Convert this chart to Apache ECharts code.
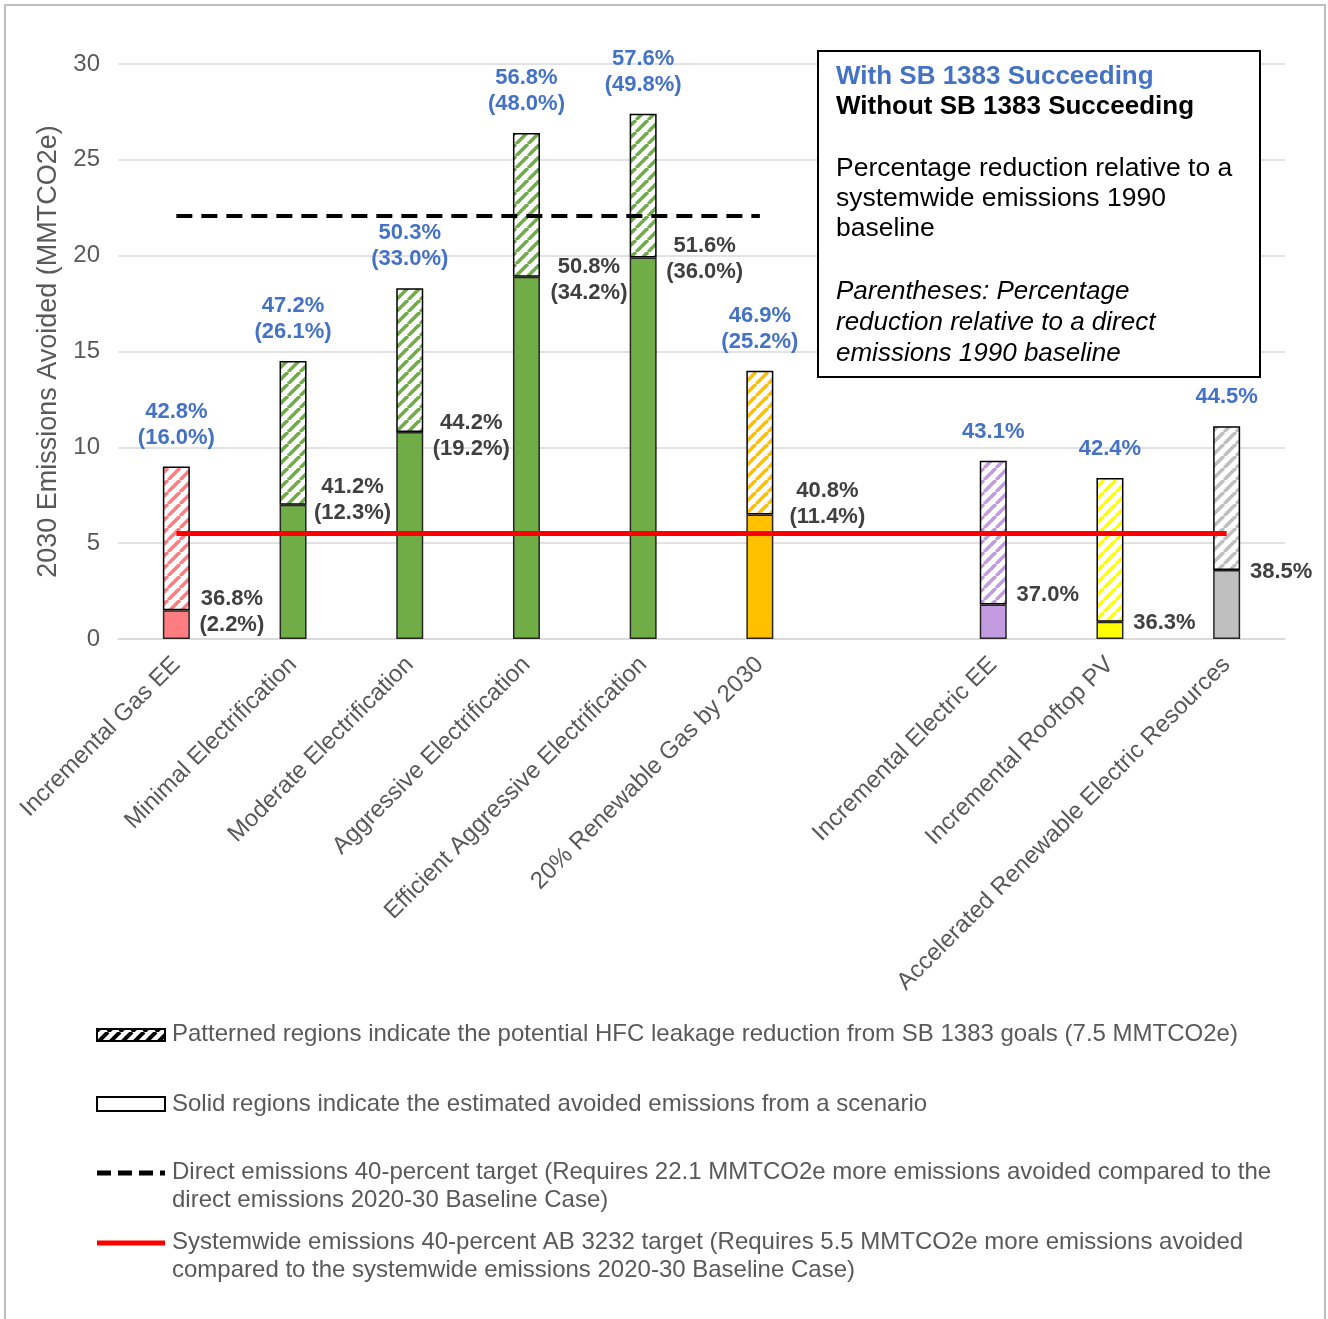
<!DOCTYPE html>
<html><head><meta charset="utf-8">
<script src="https://cdn.jsdelivr.net/npm/echarts@6/dist/echarts.min.js"></script>
<style>html,body{margin:0;padding:0;background:#fff}#c{width:1328px;height:1319px}</style>
</head><body><div id="c"></div>
<script>
// ---------- data ----------
const categories = ['Incremental Gas EE','Minimal Electrification','Moderate Electrification','Aggressive Electrification','Efficient Aggressive Electrification','20% Renewable Gas by 2030','','Incremental Electric EE','Incremental Rooftop PV','Accelerated Renewable Electric Resources'];
const solidValues = [1.5, 7.0, 10.8, 18.9, 19.9, 6.5, null, 1.8, 0.9, 3.6];
const hfcValues = [7.5, 7.5, 7.5, 7.5, 7.5, 7.5, null, 7.5, 7.5, 7.5];
const withSB1383Labels = ['42.8%\n(16.0%)','47.2%\n(26.1%)','50.3%\n(33.0%)','56.8%\n(48.0%)','57.6%\n(49.8%)','46.9%\n(25.2%)','','43.1%','42.4%','44.5%'];
const withoutSB1383Labels = ['36.8%\n(2.2%)','41.2%\n(12.3%)','44.2%\n(19.2%)','50.8%\n(34.2%)','51.6%\n(36.0%)','40.8%\n(11.4%)','','37.0%','36.3%','38.5%'];
const directTarget = 22.1;      // spans first..sixth category
const directTargetRange = [0, 5];
const systemwideTarget = 5.5;   // spans all categories
const systemwideTargetRange = [0, 9];
const yMin = 0, yMax = 30, yInterval = 5;

// ---------- styles ----------
const barColors = ['#FF7C80','#70AD47','#70AD47','#70AD47','#70AD47','#FFC000',null,'#C39BE0','#FFFF00','#BFBFBF'];
const labelOffsets = [[42,2],[46,-5],[48,4],[49,3],[48,1],[54,-10],[0,0],[41,-10],[41,1],[41,2]];
const FONT = 'Liberation Sans, Arial, sans-serif';

function hatch(color, bg, lw, period) {
  const c = document.createElement('canvas');
  c.width = period; c.height = period;
  const g = c.getContext('2d');
  g.fillStyle = bg; g.fillRect(0,0,period,period);
  g.strokeStyle = color; g.lineWidth = lw;
  for (let k = -1; k <= 1; k++) {
    g.beginPath();
    g.moveTo(k*period, period); g.lineTo(k*period + period, 0);
    g.stroke();
  }
  return c;
}

const solidData = solidValues.map((v, i) => v == null ? '-' : ({
  value: v,
  itemStyle: { color: barColors[i] },
  label: { formatter: withoutSB1383Labels[i], offset: labelOffsets[i] }
}));
const hfcData = hfcValues.map((v, i) => v == null ? '-' : ({
  value: v,
  itemStyle: { color: { image: hatch(barColors[i], '#ffffff', 3.6, 12), repeat: 'repeat' } },
  label: { formatter: withSB1383Labels[i] }
}));

const Z = 50;
const chart = echarts.init(document.getElementById('c'), null, { renderer: 'canvas' });
chart.setOption({
  animation: false,
  backgroundColor: '#ffffff',
  textStyle: { fontFamily: FONT },
  grid: { left: 118, right: 43, top: 64, bottom: 680, containLabel: false },
  xAxis: {
    type: 'category', data: categories,
    axisTick: { show: false },
    axisLine: { lineStyle: { color: '#D9D9D9', width: 1.5 } },
    axisLabel: { rotate: 45, interval: 0, fontSize: 24, color: '#595959', margin: 22, fontFamily: FONT }
  },
  yAxis: {
    type: 'value', min: yMin, max: yMax, interval: yInterval,
    name: '2030 Emissions Avoided (MMTCO2e)', nameLocation: 'middle', nameGap: 54,
    nameTextStyle: { fontSize: 27, color: '#595959', fontFamily: FONT },
    axisLine: { show: false }, axisTick: { show: false },
    axisLabel: { fontSize: 24, color: '#595959', margin: 18, fontFamily: FONT },
    splitLine: { lineStyle: { color: '#D9D9D9', width: 1.5 } }
  },
  series: [
    {
      name: 'Solid', type: 'bar', stack: 's', barWidth: 27,
      data: solidData,
      itemStyle: { borderColor: '#262626', borderWidth: 1.5 },
      label: { show: true, position: ['100%', 0], align: 'center', verticalAlign: 'middle',
        fontSize: 22, fontWeight: 'bold', color: '#404040', lineHeight: 26, fontFamily: FONT }
    },
    {
      name: 'HFC', type: 'bar', stack: 's', barWidth: 27,
      data: hfcData,
      itemStyle: { borderColor: '#000000', borderWidth: 1.5 },
      label: { show: true, position: 'top', distance: 16,
        fontSize: 22, fontWeight: 'bold', color: '#4472C4', lineHeight: 26, fontFamily: FONT }
    },
    {
      name: 'Targets', type: 'line', data: [], z: 10,
      markLine: {
        silent: true, symbol: 'none', label: { show: false },
        data: [
          [ { coord: [directTargetRange[0], directTarget], lineStyle: { color: '#000', width: 4, type: [16, 9] } },
            { coord: [directTargetRange[1], directTarget] } ],
          [ { coord: [systemwideTargetRange[0], systemwideTarget], lineStyle: { color: '#FF0000', width: 5, type: 'solid' } },
            { coord: [systemwideTargetRange[1], systemwideTarget] } ]
        ]
      }
    }
  ],
  graphic: [
    { type: 'rect', z: 100, shape: { x: 5, y: 5, width: 1320, height: 1340 }, style: { fill: 'none', stroke: '#BFBFBF', lineWidth: 2 } },
    // inset legend box
    { type: 'rect', z: Z, shape: { x: 818, y: 51, width: 442, height: 326 }, style: { fill: '#fff', stroke: '#000', lineWidth: 2 } },
    { type: 'text', z: Z + 1, x: 836, y: 77, style: { text: 'With SB 1383 Succeeding', font: 'bold 26px ' + FONT, fill: '#4472C4', verticalAlign: 'middle' } },
    { type: 'text', z: Z + 1, x: 836, y: 107, style: { text: 'Without SB 1383 Succeeding', font: 'bold 26px ' + FONT, fill: '#000', verticalAlign: 'middle' } },
    { type: 'text', z: Z + 1, x: 836, y: 154, style: { text: 'Percentage reduction relative to a\nsystemwide emissions 1990\nbaseline', font: '26.5px ' + FONT, fill: '#000', lineHeight: 30 } },
    { type: 'text', z: Z + 1, x: 836, y: 276, style: { text: 'Parentheses: Percentage\nreduction relative to a direct\nemissions 1990 baseline', font: 'italic 26px ' + FONT, fill: '#000', lineHeight: 31 } },
    // bottom legend
    { type: 'rect', shape: { x: 97, y: 1029, width: 68, height: 12 }, style: { fill: { image: hatch('#000', '#fff', 4, 12), repeat: 'repeat' }, stroke: '#000', lineWidth: 2 } },
    { type: 'text', x: 172, y: 1034, style: { text: 'Patterned regions indicate the potential HFC leakage reduction from SB 1383 goals (7.5 MMTCO2e)', font: '24px ' + FONT, fill: '#595959', verticalAlign: 'middle' } },
    { type: 'rect', shape: { x: 97, y: 1097, width: 68, height: 14 }, style: { fill: '#fff', stroke: '#000', lineWidth: 2 } },
    { type: 'text', x: 172, y: 1104, style: { text: 'Solid regions indicate the estimated avoided emissions from a scenario', font: '24px ' + FONT, fill: '#595959', verticalAlign: 'middle' } },
    { type: 'line', shape: { x1: 97, y1: 1173, x2: 165, y2: 1173 }, style: { stroke: '#000', lineWidth: 5, lineDash: [14, 7] } },
    { type: 'text', x: 172, y: 1158, style: { text: 'Direct emissions 40-percent target (Requires 22.1 MMTCO2e more emissions avoided compared to the\ndirect emissions 2020-30 Baseline Case)', font: '24px ' + FONT, fill: '#595959', lineHeight: 28 } },
    { type: 'line', shape: { x1: 97, y1: 1243, x2: 165, y2: 1243 }, style: { stroke: '#FF0000', lineWidth: 5 } },
    { type: 'text', x: 172, y: 1228, style: { text: 'Systemwide emissions 40-percent AB 3232 target (Requires 5.5 MMTCO2e more emissions avoided\ncompared to the systemwide emissions 2020-30 Baseline Case)', font: '24px ' + FONT, fill: '#595959', lineHeight: 28 } }
  ]
});
</script></body></html>
